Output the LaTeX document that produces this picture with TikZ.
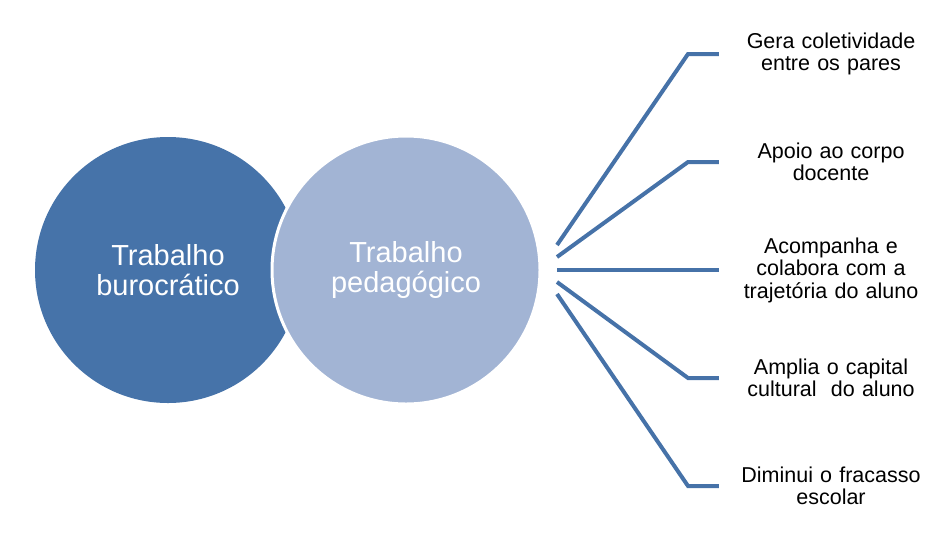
\documentclass[tikz,border=0pt]{standalone}
\usepackage{fontspec}
\setmainfont{Liberation Sans}
\definecolor{darkblue}{RGB}{70,115,169}
\definecolor{lightblue}{RGB}{162,180,212}
\definecolor{linkblue}{RGB}{70,114,168}

\begin{document}
\begin{tikzpicture}[x=1pt, y=-1pt,
  bigcircle/.style = {shape=circle, minimum size=266pt, inner sep=0pt,
    align=center, text=white, font=\fontsize{29}{30}\selectfont},
  itemtext/.style = {inner sep=0pt, text width=224pt, align=center,
    font=\fontsize{21.5}{22.5}\selectfont},
  link/.style = {draw=linkblue, line width=4pt}]
  \useasboundingbox (0,0) rectangle (944,539);
  \node[bigcircle, fill=darkblue] (buro) at (168,270) {Trabalho\\burocrático};
  \node[bigcircle, fill=lightblue, draw=white, line width=3pt,
    minimum size=268pt] (ped) at (406,270) {Trabalho\\pedagógico};
%  texts on the right
  \node[itemtext] (t1) at (831,54) {Gera coletividade\\entre os pares};
  \node[itemtext] (t2) at (831,162) {Apoio ao corpo\\docente};
  \node[itemtext] (t3) at (831,270) {Acompanha e\\colabora com a\\trajetória do aluno};
  \node[itemtext] (t4) at (831,378) {Amplia o capital\\cultural\ \ do aluno};
  \node[itemtext] (t5) at (831,486) {Diminui o fracasso\\escolar};
  \coordinate (s1) at (557,245);
  \coordinate (s2) at (557,257);
  \coordinate (s3) at (557,270);
  \coordinate (s4) at (557,282);
  \coordinate (s5) at (557,294);
  \foreach \i in {1,...,5}
    \draw[link] (s\i) -- (t\i.west -| 688,0) -- (t\i.west);
\end{tikzpicture}
\end{document}
